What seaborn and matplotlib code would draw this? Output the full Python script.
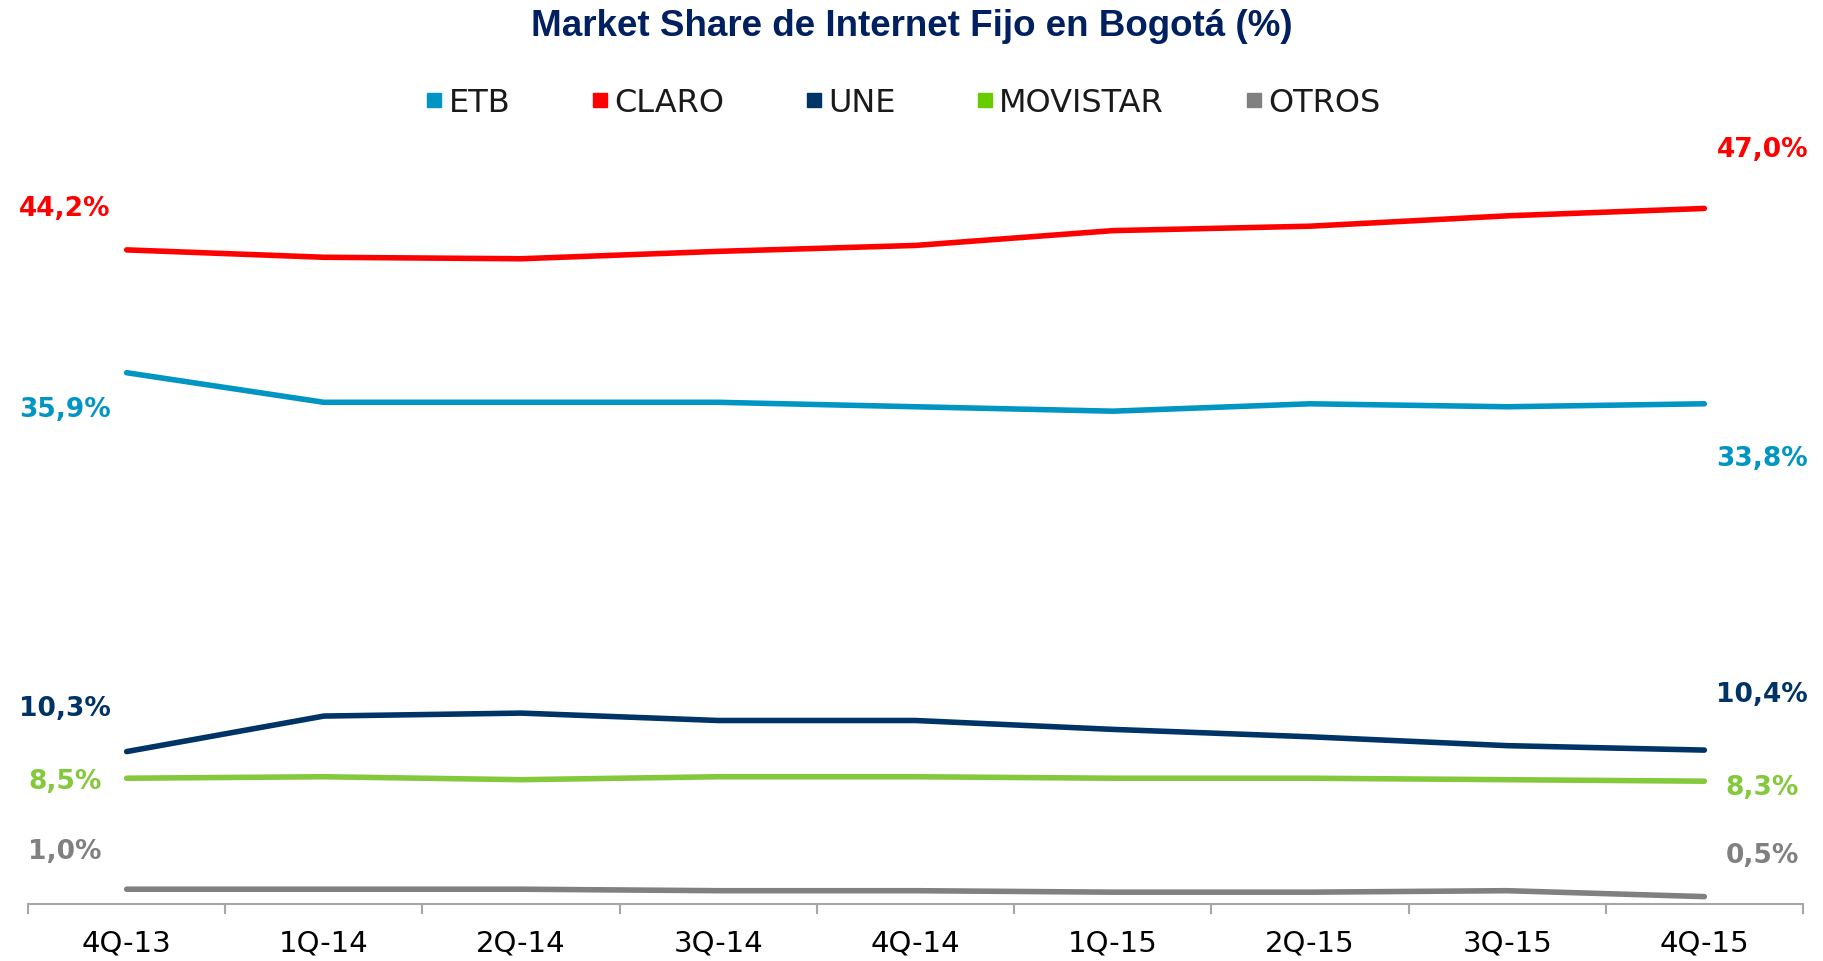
import numpy as np
import pandas as pd
import seaborn as sns
import matplotlib.pyplot as plt
from matplotlib.lines import Line2D

# data (% market share)
quarters = ['4Q-13', '1Q-14', '2Q-14', '3Q-14', '4Q-14', '1Q-15', '2Q-15', '3Q-15', '4Q-15']
companies = ['ETB', 'CLARO', 'UNE', 'MOVISTAR', 'OTROS']
etb = [35.9, 33.9, 33.9, 33.9, 33.6, 33.3, 33.8, 33.6, 33.8]
claro = [44.2, 43.7, 43.6, 44.1, 44.5, 45.5, 45.8, 46.5, 47.0]
une = [10.3, 12.7, 12.9, 12.4, 12.4, 11.8, 11.3, 10.7, 10.4]
movistar = [8.5, 8.6, 8.4, 8.6, 8.6, 8.5, 8.5, 8.4, 8.3]
otros = [1.0, 1.0, 1.0, 0.9, 0.9, 0.8, 0.8, 0.9, 0.5]

line_colors = {'ETB': '#0095C2', 'CLARO': '#FF0000', 'UNE': '#003366',
               'MOVISTAR': '#84C83C', 'OTROS': '#808080'}
legend_colors = {'ETB': '#0095C2', 'CLARO': '#FF0000', 'UNE': '#003366',
                 'MOVISTAR': '#66CC00', 'OTROS': '#808080'}

# label offsets in pixels (first point, last point)
left_dy = {'ETB': -37, 'CLARO': 41, 'UNE': 43, 'MOVISTAR': -4, 'OTROS': 37}
right_dy = {'ETB': -55, 'CLARO': 58, 'UNE': 55, 'MOVISTAR': -7, 'OTROS': 41}

wide = pd.DataFrame({'Trimestre': quarters, 'ETB': etb, 'CLARO': claro,
                     'UNE': une, 'MOVISTAR': movistar, 'OTROS': otros})
df = wide.melt(id_vars='Trimestre', var_name='Empresa', value_name='Share')
df['pos'] = df['Trimestre'].map({q: i for i, q in enumerate(quarters)})

sns.set_style('white')
plt.rcParams['font.family'] = ['DejaVu Sans']

fig = plt.figure(figsize=(18.23, 9.61), dpi=100)
ax = fig.add_axes([0.0154, 0.0593, 0.9736, 0.847])

sns.lineplot(data=df, x='pos', y='Share', hue='Empresa', hue_order=companies,
             palette=line_colors, linewidth=4, legend=False, ax=ax)
for line in ax.lines:
    line.set_solid_capstyle('round')

# end labels
for name in companies:
    vals = wide[name].values
    c = line_colors[name]
    first = f"{vals[0]:.1f}%".replace('.', ',')
    last = f"{vals[-1]:.1f}%".replace('.', ',')
    ax.annotate(first, xy=(0, vals[0]), xytext=(-62, left_dy[name]),
                textcoords='offset pixels', ha='center', va='center',
                fontsize=19, fontweight='bold', color=c)
    ax.annotate(last, xy=(len(quarters) - 1, vals[-1]), xytext=(58, right_dy[name]),
                textcoords='offset pixels', ha='center', va='center',
                fontsize=19, fontweight='bold', color=c)

ax.set_xlim(-0.5, len(quarters) - 0.5)
ax.set_ylim(0, 55)
ax.set_xticks(range(len(quarters)))
ax.set_xticklabels(quarters)
ax.set_xticks(np.arange(-0.5, len(quarters), 1), minor=True)
ax.tick_params(axis='x', which='major', bottom=True, length=0, pad=18,
               labelsize=21, labelcolor='black')
ax.tick_params(axis='x', which='minor', bottom=True, length=7.5, width=1.5,
               color='#A6A6A6', direction='out')
ax.set_yticks([])
ax.set_xlabel('')
ax.set_ylabel('')
for s in ['left', 'top', 'right']:
    ax.spines[s].set_visible(False)
ax.spines['bottom'].set_color('#A6A6A6')
ax.spines['bottom'].set_linewidth(1.5)

fig.text(0.5, 1 - 26 / 961, 'Market Share de Internet Fijo en Bogotá (%)',
         ha='center', va='center', fontsize=26.5, fontweight='bold', color='#002060',
         family=['Liberation Sans Narrow', 'Liberation Sans'])

handles = [Line2D([], [], linestyle='none', marker='s', markersize=10,
                  markerfacecolor=legend_colors[n], markeredgecolor=legend_colors[n])
           for n in companies]
fig.legend(handles, companies, loc='center', bbox_to_anchor=(0.495, 1 - 103 / 961),
           ncol=5, frameon=False, fontsize=23, handlelength=0.6, handletextpad=0.15,
           columnspacing=2.5, labelcolor='#1A1A1A')

fig.savefig('out.png', dpi=100)
